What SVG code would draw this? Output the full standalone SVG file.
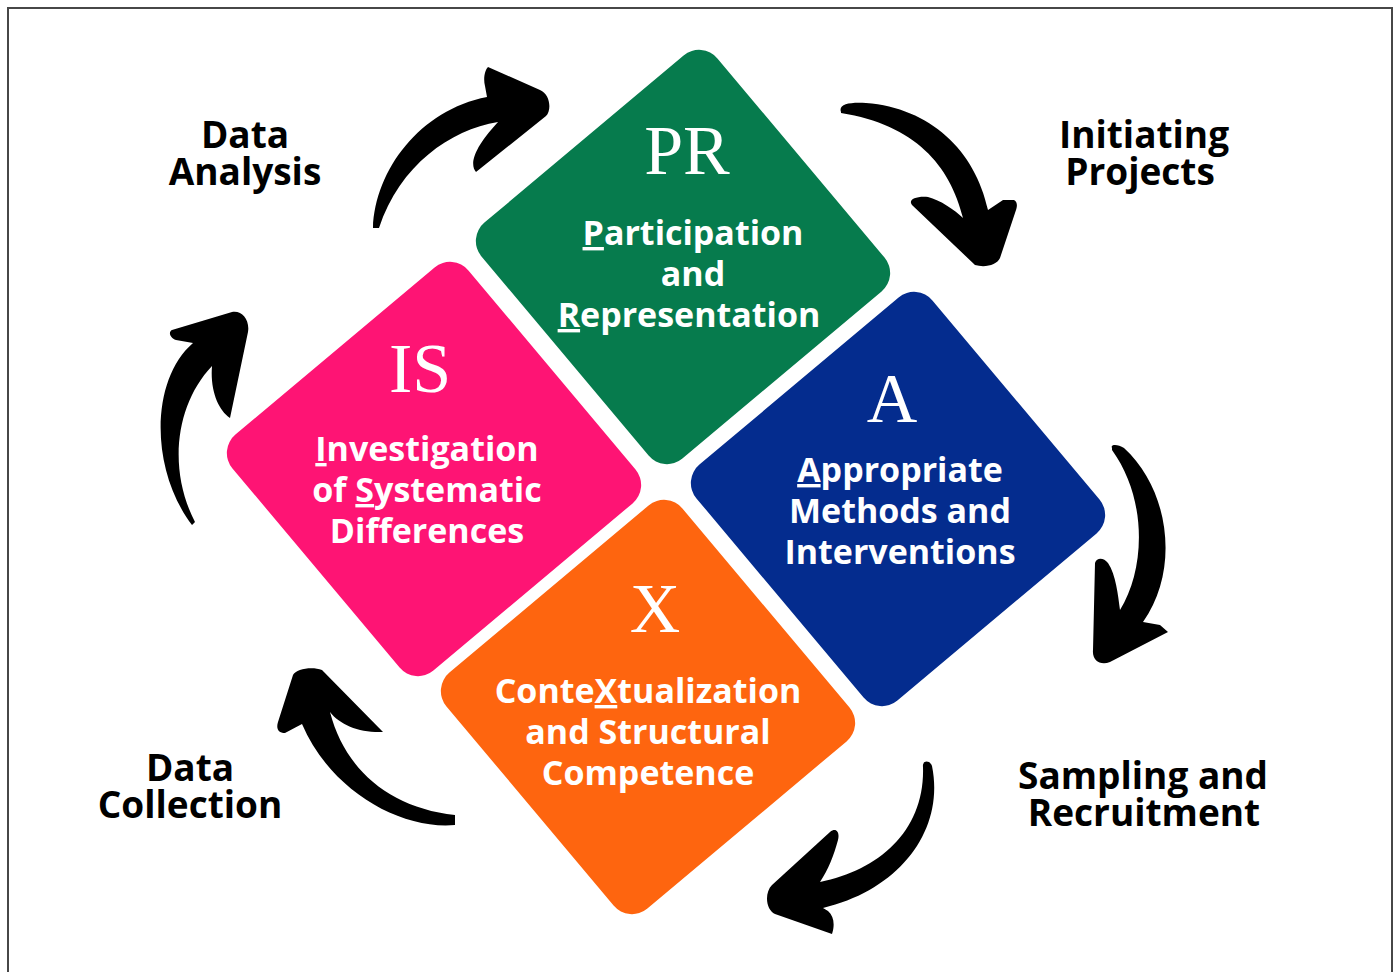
<svg xmlns="http://www.w3.org/2000/svg" width="1397" height="972" viewBox="0 0 1397 972">
<style>
.lbl{font-family:"Open Sans","Liberation Sans",sans-serif;font-weight:700;font-size:37px;fill:#000;text-anchor:middle}
.wt{font-family:"Open Sans","Liberation Sans",sans-serif;font-weight:700;font-size:34px;fill:#fff;text-anchor:middle}
.big{font-family:"Liberation Serif","DejaVu Serif",serif;font-size:70px;fill:#fff;text-anchor:middle}
.u{text-decoration:underline;text-decoration-thickness:3px}
.arrow{fill:#000}
</style>
<rect x="0" y="0" width="1397" height="972" fill="#fff"/>
<rect x="8" y="8" width="1384" height="990" fill="none" stroke="#474747" stroke-width="2"/>
<g id="connectors">
<path class="arrow" d="M 373 228 C 375 170, 420 110, 487 97 L 485 86 C 483 78, 485 70, 488 67 L 540 90 C 550 94, 552 110, 546 116 L 476 172 C 470 165, 472 150, 498 122 C 450 130, 400 165, 379 228 Z"/>
<path class="arrow" d="M 841 112 C 838 104, 850 102, 866 103 C 930 108, 975 150, 988 210 L 1003 200 L 1014 200 C 1018 202, 1017 207, 1016 210 L 1000 258 C 997 265, 985 268, 975 265 L 912 205 C 908 200, 915 196, 928 197 C 940 200, 955 210, 963 218 C 950 165, 915 125, 841 113 Z"/>
<path class="arrow" d="M 1112 448 C 1110 444, 1118 444, 1124 448 C 1170 490, 1180 570, 1143 622 L 1160 625 L 1168 632 L 1110 662 C 1100 666, 1092 660, 1093 650 L 1095 563 C 1097 557, 1104 558, 1108 563 C 1116 575, 1118 595, 1120 610 C 1145 570, 1148 500, 1112 450 Z"/>
<path class="arrow" d="M 923 767 C 922 760, 930 760, 932 766 C 945 830, 900 890, 823 908 L 828 911 C 834 916, 835 925, 832 934 L 775 914 C 766 910, 764 893, 772 885 L 830 832 C 836 827, 840 832, 838 840 C 834 855, 828 870, 820 882 C 880 870, 925 830, 923 767 Z"/>
<path class="arrow" d="M 455 825 C 400 830, 330 790, 302 724 L 285 733 C 278 733, 276 728, 278 722 L 293 675 C 296 669, 312 666, 322 670 L 383 732 C 360 733, 340 725, 330 712 C 345 770, 390 808, 455 815 Z"/>
<path class="arrow" d="M 192 525 C 150 470, 150 380, 193 343 L 176 340 C 170 338, 168 332, 172 330 L 232 312 C 242 310, 250 320, 248 332 L 230 418 C 218 410, 210 390, 212 366 C 175 405, 168 470, 195 522 Z"/>
</g>
<g id="node-pr">
<rect x="-154" y="-154" width="308" height="308" rx="24" fill="#067B4D" transform="translate(683,257) rotate(50)"/>
<text class="big" x="687" y="174">PR</text>
<text class="wt" x="693" y="245"><tspan class="u">P</tspan>articipation</text>
<text class="wt" x="693" y="286">and</text>
<text class="wt" x="689" y="327"><tspan class="u">R</tspan>epresentation</text>
</g>
<g id="node-is">
<rect x="-154" y="-154" width="308" height="308" rx="24" fill="#FE1474" transform="translate(434,469) rotate(50)"/>
<text class="big" x="420" y="392">IS</text>
<text class="wt" x="427" y="461"><tspan class="u">I</tspan>nvestigation</text>
<text class="wt" x="427" y="502">of <tspan class="u">S</tspan>ystematic</text>
<text class="wt" x="427" y="543">Differences</text>
</g>
<g id="node-a">
<rect x="-154" y="-154" width="308" height="308" rx="24" fill="#042C8E" transform="translate(898,499) rotate(50)"/>
<text class="big" x="892" y="422">A</text>
<text class="wt" x="900" y="482"><tspan class="u">A</tspan>ppropriate</text>
<text class="wt" x="900" y="523">Methods and</text>
<text class="wt" x="900" y="564">Interventions</text>
</g>
<g id="node-x">
<rect x="-154" y="-154" width="308" height="308" rx="24" fill="#FE650F" transform="translate(648,707) rotate(50)"/>
<text class="big" x="655" y="632">X</text>
<text class="wt" x="648" y="703">Conte<tspan class="u">X</tspan>tualization</text>
<text class="wt" x="648" y="744">and Structural</text>
<text class="wt" x="648" y="785">Competence</text>
</g>
<g id="label-analysis">
<text class="lbl" x="245" y="148">Data</text>
<text class="lbl" x="245" y="185">Analysis</text>
</g>
<g id="label-initiating">
<text class="lbl" x="1144" y="148">Initiating</text>
<text class="lbl" x="1140" y="185">Projects</text>
</g>
<g id="label-sampling">
<text class="lbl" x="1143" y="789">Sampling and</text>
<text class="lbl" x="1144" y="826">Recruitment</text>
</g>
<g id="label-collection">
<text class="lbl" x="190" y="781">Data</text>
<text class="lbl" x="190" y="818">Collection</text>
</g>
</svg>
